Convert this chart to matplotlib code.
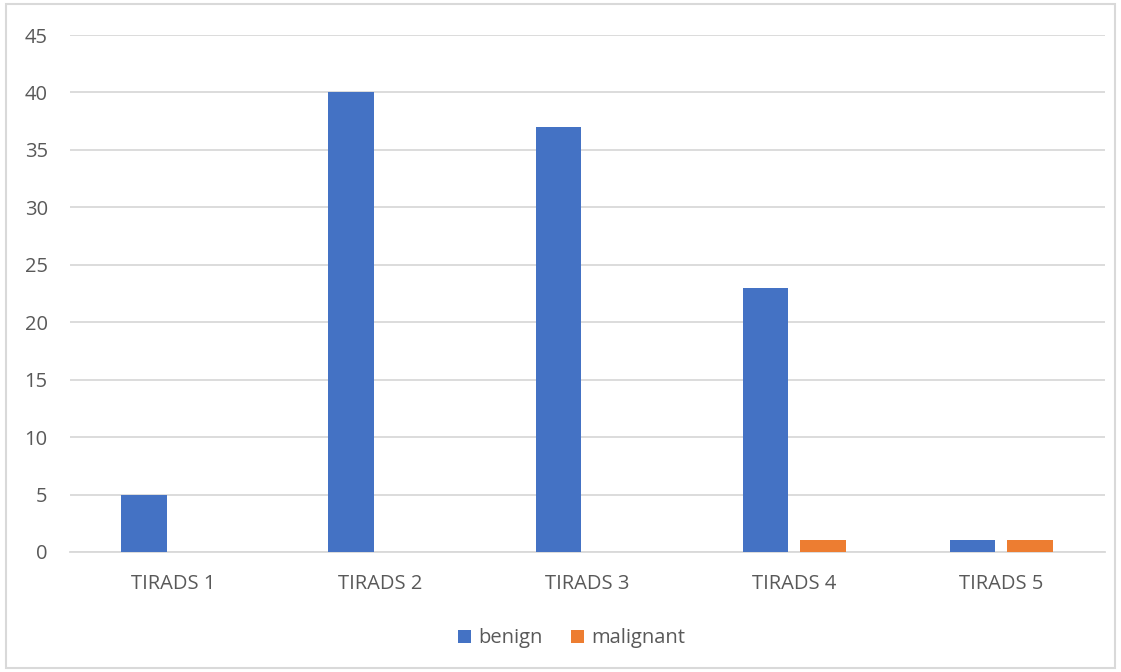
import matplotlib
matplotlib.use("Agg")
import matplotlib.pyplot as plt
import numpy as np
from matplotlib.patches import Rectangle

categories = ["TIRADS 1", "TIRADS 2", "TIRADS 3", "TIRADS 4", "TIRADS 5"]
benign = [5, 40, 37, 23, 1]
malignant = [0, 0, 0, 1, 1]
yticks = [0, 5, 10, 15, 20, 25, 30, 35, 40, 45]

plt.rcParams['font.family'] = ['Open Sans', 'DejaVu Sans']
text_color = "#595959"
grid_color = "#D9D9D9"

fig = plt.figure(figsize=(11.21, 6.72), dpi=100)
ax = fig.add_axes([0.0624, 0.1786, 0.9233, 0.7693])

x = np.arange(len(categories))
w = 0.222
off = 0.14
ax.bar(x - off, benign, w, color="#4472C4", label="benign", zorder=3)
ax.bar(x + off, malignant, w, color="#ED7D31", label="malignant", zorder=3)

ax.set_xlim(-0.5, len(categories) - 0.5)
ax.set_ylim(0, 45)
ax.set_yticks(yticks)
ax.set_xticks(x)
ax.set_xticklabels(categories)
ax.tick_params(axis="both", length=0, labelsize=14.5, colors=text_color)
ax.tick_params(axis="y", pad=16)
ax.tick_params(axis="x", pad=16)
ax.yaxis.grid(True, color=grid_color, linewidth=1.3, zorder=0)
for s in ["top", "right", "left"]:
    ax.spines[s].set_visible(False)
ax.spines["bottom"].set_color(grid_color)
ax.spines["bottom"].set_linewidth(1.3)

leg = fig.legend(loc="center", bbox_to_anchor=(0.51, 0.05), ncol=2, frameon=False,
                 fontsize=14.5, handlelength=0.65, handleheight=0.65, handletextpad=0.35,
                 columnspacing=1.4, labelcolor=text_color)

fig.patches.append(Rectangle((0.005, 0.006), 0.99, 0.988, transform=fig.transFigure,
                             fill=False, edgecolor=grid_color, linewidth=1.5))

fig.savefig("out.png", dpi=100)
